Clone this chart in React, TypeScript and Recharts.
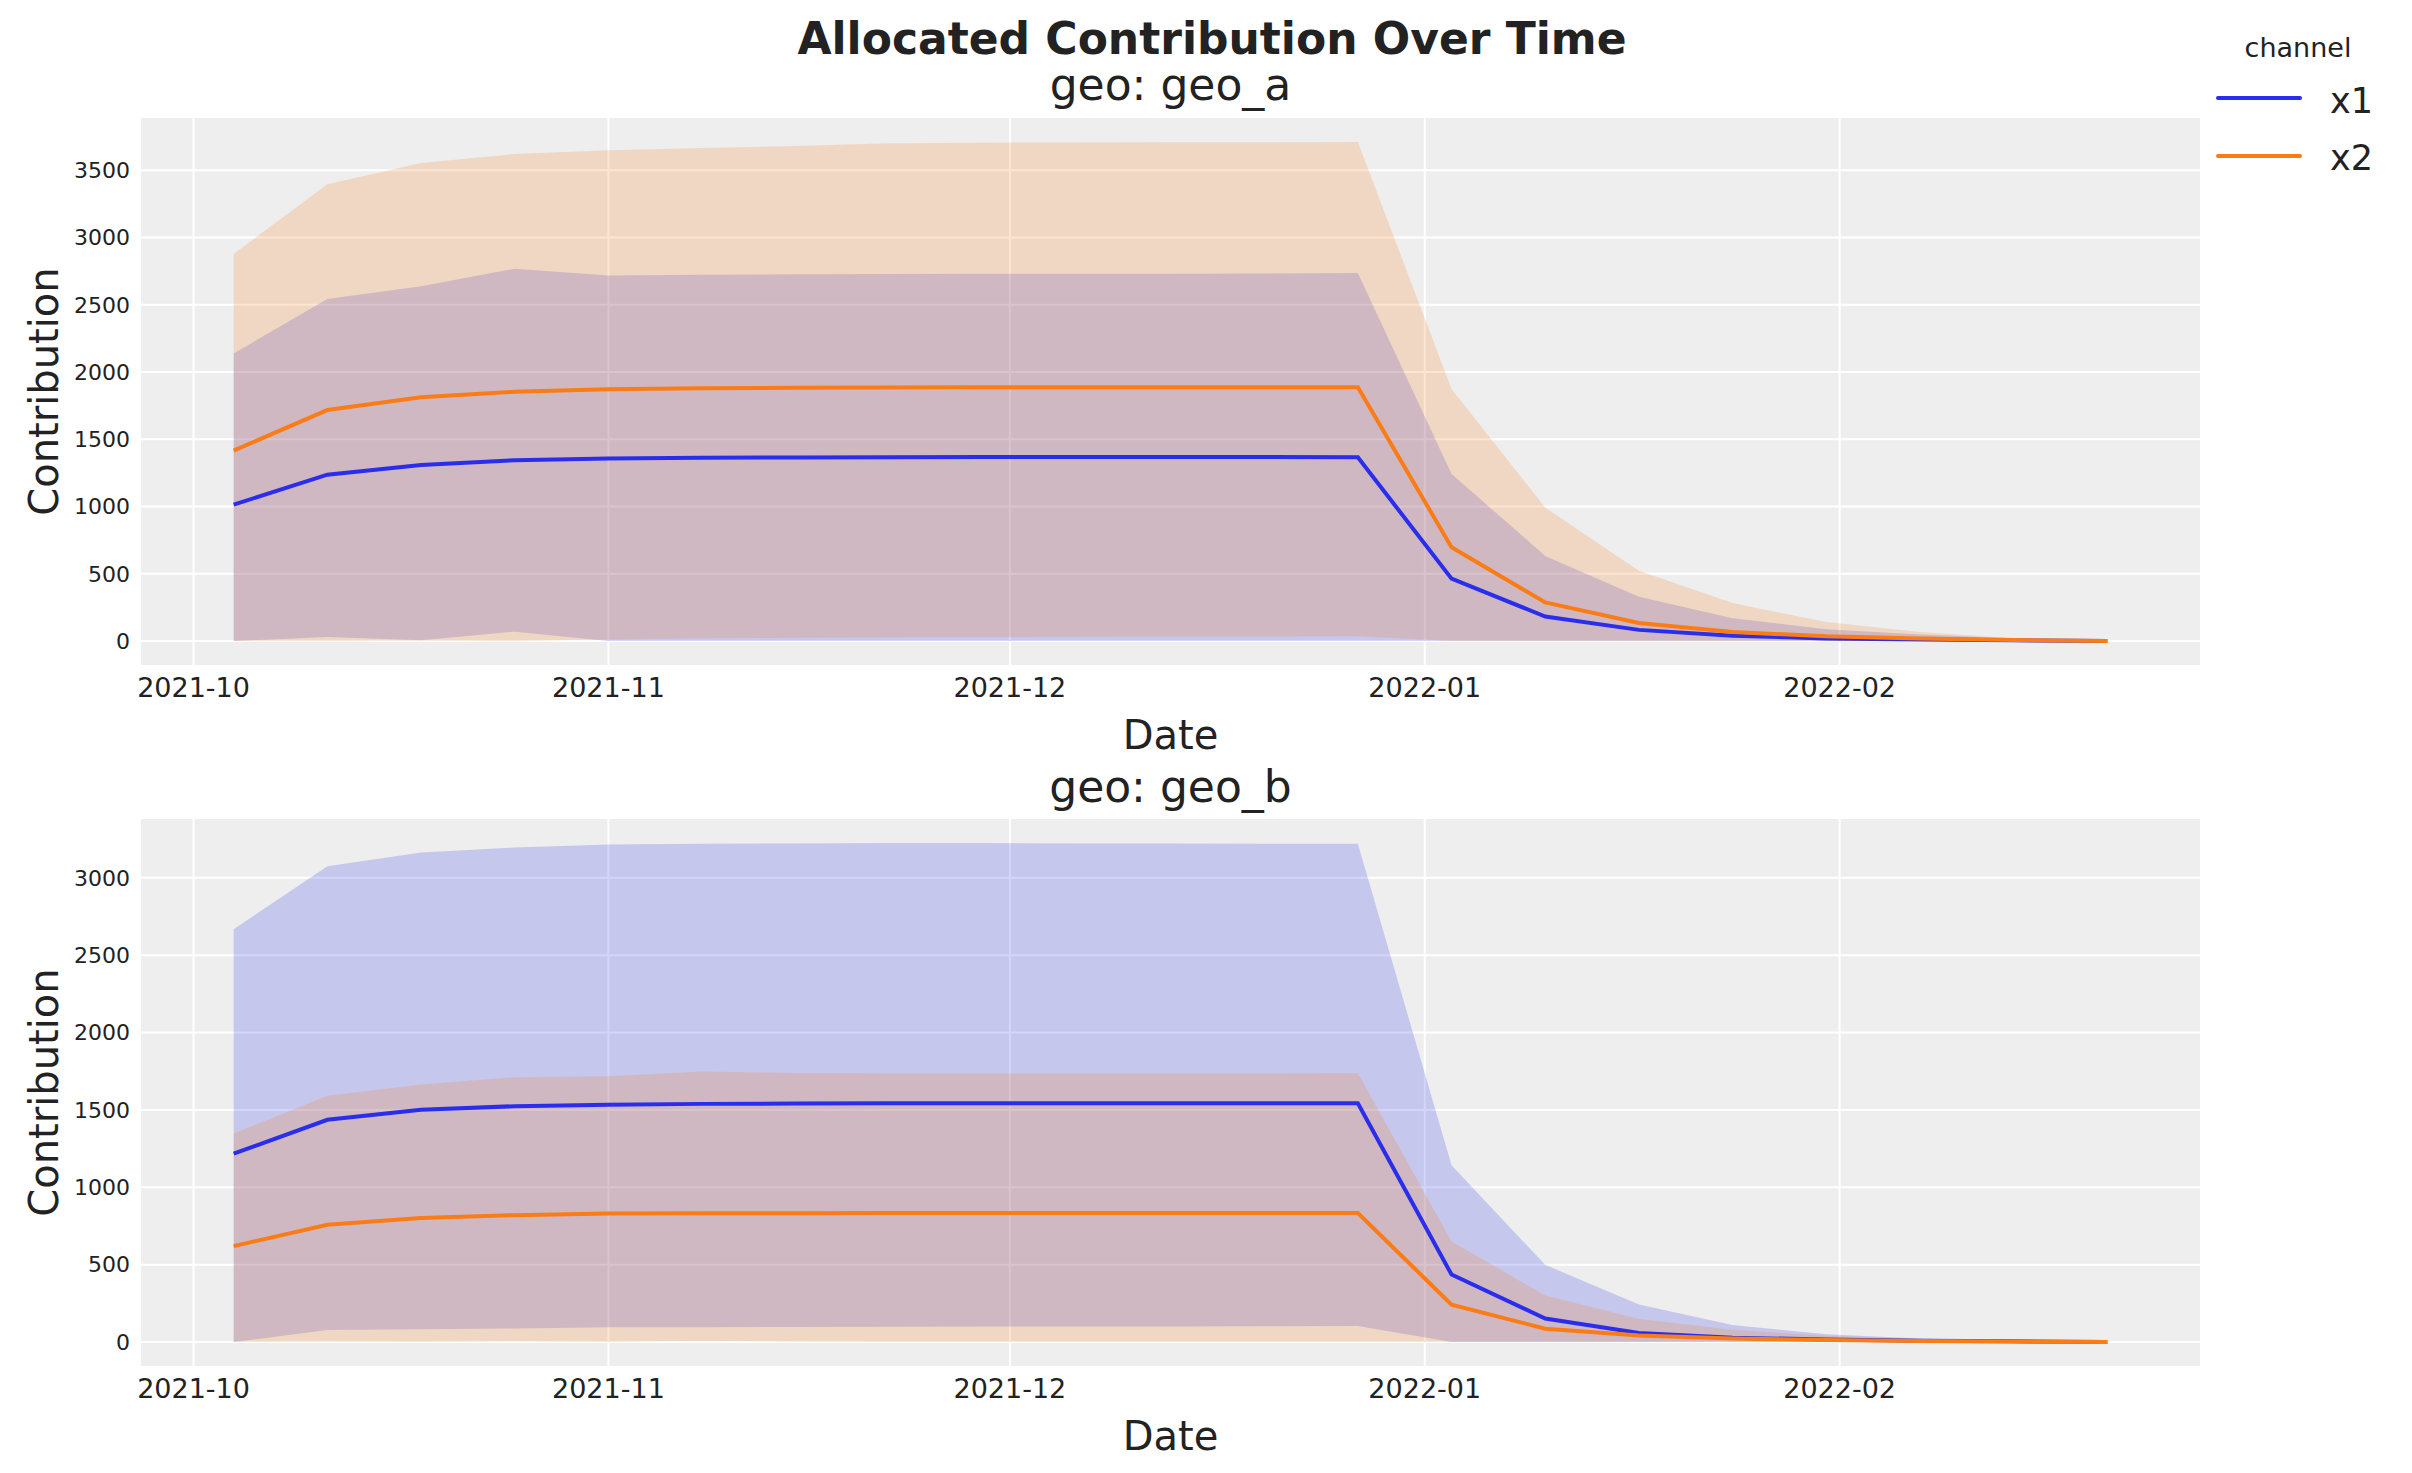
import React from 'react';
import { ComposedChart, Area, Line, XAxis, YAxis, CartesianGrid, Legend } from 'recharts';

// ---------- data ----------
const DATES = [
  '2021-10-04', '2021-10-11', '2021-10-18', '2021-10-25', '2021-11-01', '2021-11-08', '2021-11-15',
  '2021-11-22', '2021-11-29', '2021-12-06', '2021-12-13', '2021-12-20', '2021-12-27', '2022-01-03',
  '2022-01-10', '2022-01-17', '2022-01-24', '2022-01-31', '2022-02-07', '2022-02-14', '2022-02-21',
];
const MONTH_TICKS = ['2021-10-01', '2021-11-01', '2021-12-01', '2022-01-01', '2022-02-01'];

const GEO_A_X1_LOW = [0, 30, 5, 70, 0, 0, 0, 0, 0, 0, 0, 0, 0, 0, 0, 0, 0, 0, 0, 0, 0];
const GEO_A_X1_MEAN = [1014, 1237, 1309, 1344, 1357, 1362, 1365, 1367, 1368, 1368, 1368, 1368, 1366, 464, 182, 83, 40, 19, 11, 5, 1];
const GEO_A_X1_HIGH = [2138, 2543, 2637, 2768, 2717, 2722, 2726, 2728, 2730, 2731, 2731, 2732, 2736, 1242, 633, 330, 169, 88, 48, 21, 2];
const GEO_A_X2_LOW = [0, 0, 2, 0, 12, 20, 25, 28, 30, 32, 33, 34, 35, 0, 0, 0, 0, 0, 0, 0, 0];
const GEO_A_X2_MEAN = [1416, 1717, 1813, 1853, 1872, 1879, 1883, 1885, 1886, 1886, 1886, 1886, 1886, 697, 287, 134, 67, 35, 19, 8, 1];
const GEO_A_X2_HIGH = [2878, 3396, 3554, 3621, 3648, 3665, 3680, 3700, 3705, 3706, 3707, 3708, 3710, 1873, 992, 523, 282, 142, 67, 21, 2];

const GEO_B_X1_LOW = [0, 78, 82, 88, 95, 96, 98, 99, 100, 100, 101, 102, 103, 0, 0, 0, 0, 0, 0, 0, 0];
const GEO_B_X1_MEAN = [1217, 1436, 1501, 1524, 1534, 1539, 1541, 1543, 1543, 1543, 1543, 1543, 1543, 436, 152, 58, 28, 16, 9, 5, 0];
const GEO_B_X1_HIGH = [2667, 3075, 3163, 3195, 3215, 3220, 3222, 3225, 3224, 3222, 3221, 3220, 3220, 1142, 499, 242, 110, 51, 23, 9, 1];
const GEO_B_X2_LOW = [0, 2, 1, 3, 1, 8, 2, 1, 1, 1, 1, 1, 1, 0, 0, 0, 0, 0, 0, 0, 0];
const GEO_B_X2_MEAN = [620, 758, 802, 820, 830, 832, 833, 834, 834, 834, 834, 834, 834, 242, 86, 42, 23, 14, 7, 3, 0];
const GEO_B_X2_HIGH = [1347, 1592, 1664, 1711, 1718, 1748, 1739, 1736, 1735, 1735, 1735, 1735, 1737, 650, 301, 149, 79, 40, 21, 9, 1];

const GEO_A_Y_TICKS = [0, 500, 1000, 1500, 2000, 2500, 3000, 3500];
const GEO_B_Y_TICKS = [0, 500, 1000, 1500, 2000, 2500, 3000];

const CHANNELS = [
  { key: 'x1', name: 'x1', color: '#2a2eec' },
  { key: 'x2', name: 'x2', color: '#fa7c17' },
];

// ---------- style ----------
const W = 2412;
const H = 1473;
const FONT = '"DejaVu Sans", Verdana, sans-serif';
const TEXT = '#222222';
const PANEL_BG = '#eeeeee';
const PLOT_LEFT = 140;
const PLOT_RIGHT = 2201;
const Y_AXIS_W = 100;
const X_AXIS_H = 65;
const PLOT_CX = (PLOT_LEFT + PLOT_RIGHT) / 2;
const TOP_CHART_H = 780;

const toTs = (d: string) => Date.parse(d + 'T00:00:00Z');
const pad = (min: number, max: number): [number, number] => {
  const r = max - min;
  return [min - 0.05 * r, max + 0.05 * r];
};

const X_TS = DATES.map(toTs);
const X_DOMAIN = pad(Math.min(...X_TS), Math.max(...X_TS));
const MONTH_TS = MONTH_TICKS.map(toTs);
const fmtMonth = (v: number) => {
  const d = new Date(v);
  return `${d.getUTCFullYear()}-${String(d.getUTCMonth() + 1).padStart(2, '0')}`;
};

function buildRows(x1Lo: number[], x1M: number[], x1Hi: number[], x2Lo: number[], x2M: number[], x2Hi: number[]) {
  return DATES.map((d, i) => ({
    t: toTs(d),
    x1Band: [x1Lo[i], x1Hi[i]],
    x2Band: [x2Lo[i], x2Hi[i]],
    x1: x1M[i],
    x2: x2M[i],
  }));
}

const ROWS_A = buildRows(GEO_A_X1_LOW, GEO_A_X1_MEAN, GEO_A_X1_HIGH, GEO_A_X2_LOW, GEO_A_X2_MEAN, GEO_A_X2_HIGH);
const ROWS_B = buildRows(GEO_B_X1_LOW, GEO_B_X1_MEAN, GEO_B_X1_HIGH, GEO_B_X2_LOW, GEO_B_X2_MEAN, GEO_B_X2_HIGH);
const DOMAIN_A = pad(
  Math.min(...GEO_A_X1_LOW, ...GEO_A_X2_LOW),
  Math.max(...GEO_A_X1_HIGH, ...GEO_A_X2_HIGH)
);
const DOMAIN_B = pad(
  Math.min(...GEO_B_X1_LOW, ...GEO_B_X2_LOW),
  Math.max(...GEO_B_X1_HIGH, ...GEO_B_X2_HIGH)
);

function renderLegend() {
  return (
    <svg width={222} height={190} style={{ display: 'block', overflow: 'visible' }}>
      <text x={108} y={57} textAnchor="middle" fontSize={27} fill={TEXT} fontFamily={FONT}>
        channel
      </text>
      {CHANNELS.map((c, i) => (
        <g key={c.key}>
          <line x1={28} x2={110} y1={98 + 58 * i} y2={98 + 58 * i} stroke={c.color} strokeWidth={4} strokeLinecap="round" />
          <text x={140} y={113 + 57 * i} fontSize={35} fill={TEXT} fontFamily={FONT}>
            {c.name}
          </text>
        </g>
      ))}
    </svg>
  );
}

type PanelProps = {
  rows: any[];
  yTicks: number[];
  yDomain: [number, number];
  height: number;
  marginTop: number;
  marginBottom: number;
  showLegend?: boolean;
};

function Panel({ rows, yTicks, yDomain, height, marginTop, marginBottom, showLegend }: PanelProps) {
  const plotTop = marginTop;
  const plotBottom = height - marginBottom - X_AXIS_H;
  const plotCy = (plotTop + plotBottom) / 2;
  return (
    <ComposedChart
      width={W}
      height={height}
      data={rows}
      margin={{ top: marginTop, right: W - PLOT_RIGHT, bottom: marginBottom, left: PLOT_LEFT - Y_AXIS_W }}
    >
      <CartesianGrid fill={PANEL_BG} fillOpacity={1} stroke="#ffffff" strokeWidth={2} />
      <XAxis
        dataKey="t"
        type="number"
        domain={X_DOMAIN}
        ticks={MONTH_TS}
        interval={0}
        allowDataOverflow
        tickFormatter={fmtMonth}
        axisLine={false}
        tickLine={false}
        tickSize={0}
        tickMargin={12}
        height={X_AXIS_H}
        tick={{ fontSize: 27, fill: TEXT, fontFamily: FONT }}
        label={() => (
          <text x={PLOT_CX} y={plotBottom + 83} textAnchor="middle" fontSize={40} fill={TEXT} fontFamily={FONT}>
            Date
          </text>
        )}
      />
      <YAxis
        type="number"
        domain={yDomain}
        ticks={yTicks}
        interval={0}
        allowDataOverflow
        axisLine={false}
        tickLine={false}
        tickSize={0}
        tickMargin={10}
        width={Y_AXIS_W}
        tick={{ fontSize: 22, fill: TEXT, fontFamily: FONT }}
        label={() => (
          <text
            x={58}
            y={plotCy}
            transform={`rotate(-90, 58, ${plotCy})`}
            textAnchor="middle"
            fontSize={40}
            fill={TEXT}
            fontFamily={FONT}
          >
            Contribution
          </text>
        )}
      />
      {CHANNELS.map((c) => (
        <Area
          key={c.key + 'band'}
          dataKey={c.key + 'Band'}
          type="linear"
          stroke="none"
          fill={c.color}
          fillOpacity={0.2}
          dot={false}
          activeDot={false}
          legendType="none"
          isAnimationActive={false}
        />
      ))}
      {CHANNELS.map((c) => (
        <Line
          key={c.key}
          dataKey={c.key}
          name={c.name}
          type="linear"
          stroke={c.color}
          strokeWidth={4}
          dot={false}
          activeDot={false}
          isAnimationActive={false}
        />
      ))}
      {showLegend && (
        <Legend
          layout="vertical"
          align="center"
          verticalAlign="middle"
          content={renderLegend}
          wrapperStyle={{ position: 'absolute', left: 2190, top: 0, width: 222, height: 190 }}
        />
      )}
    </ComposedChart>
  );
}

export default function App() {
  return (
    <div
      style={{
        position: 'absolute',
        left: 0,
        top: 0,
        width: W,
        height: H,
        background: '#ffffff',
        fontFamily: FONT,
        overflow: 'hidden',
      }}
    >
      <div style={{ position: 'absolute', left: 0, top: 0 }}>
        <Panel rows={ROWS_A} yTicks={GEO_A_Y_TICKS} yDomain={DOMAIN_A} height={TOP_CHART_H} marginTop={117} marginBottom={49} showLegend />
      </div>
      <div style={{ position: 'absolute', left: 0, top: TOP_CHART_H }}>
        <Panel rows={ROWS_B} yTicks={GEO_B_Y_TICKS} yDomain={DOMAIN_B} height={H - TOP_CHART_H} marginTop={38} marginBottom={41} />
      </div>
      <svg width={W} height={H} style={{ position: 'absolute', left: 0, top: 0, pointerEvents: 'none' }}>
        <text x={1212} y={54} textAnchor="middle" fontSize={44} fontWeight="bold" fill={TEXT} fontFamily={FONT}>
          Allocated Contribution Over Time
        </text>
        <text x={PLOT_CX} y={100} textAnchor="middle" fontSize={44} fill={TEXT} fontFamily={FONT}>
          geo: geo_a
        </text>
        <text x={PLOT_CX} y={802} textAnchor="middle" fontSize={44} fill={TEXT} fontFamily={FONT}>
          geo: geo_b
        </text>
      </svg>
    </div>
  );
}
